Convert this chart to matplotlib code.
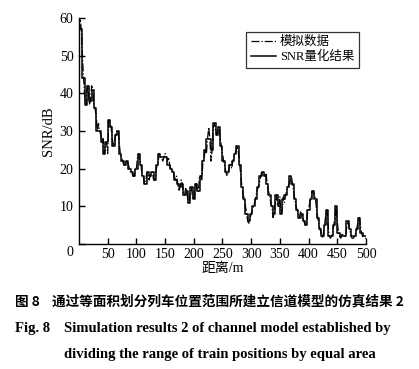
import numpy as np
import matplotlib
matplotlib.use("Agg")
import matplotlib.pyplot as plt

plt.rcParams['font.family'] = ['Liberation Serif', 'Noto Sans CJK SC']
plt.rcParams['axes.unicode_minus'] = False

# simulated SNR, sampled every 2 m
distance_sim = np.arange(0, 501, 2)
snr_sim = [
    58, 60, 57, 50, 44, 39, 37, 41, 42, 37,
    38, 42, 41, 37, 36, 34, 30, 32, 30, 29,
    27, 28, 24, 26, 27, 24, 33, 32, 31, 28,
    26, 27, 29, 30, 30, 27, 24, 23, 22, 21,
    21, 22, 22, 21, 20, 19, 19, 18, 18, 20,
    20, 23, 24, 22, 21, 18, 18, 16, 16, 19,
    19, 17, 18, 19, 19, 17, 17, 19, 21, 22,
    24, 23, 23, 22, 23, 24, 23, 22, 23, 21,
    20, 20, 19, 18, 17, 18, 16, 14, 15, 17,
    16, 13, 13, 15, 14, 11, 11, 14, 15, 12,
    12, 15, 16, 14, 14, 18, 18, 17, 22, 23,
    25, 24, 28, 31, 28, 22, 25, 31, 32, 30,
    29, 31, 31, 28, 26, 24, 22, 21, 19, 18,
    19, 21, 21, 20, 22, 23, 24, 25, 26, 24,
    21, 18, 15, 13, 12, 10, 8, 6, 5.5, 7,
    8, 9, 10, 11, 12.5, 14, 15, 16, 17.5, 19,
    19, 18.5, 18, 18.5, 16, 14, 13, 11, 10, 7,
    8, 11, 13, 10, 10, 12.5, 8, 9, 12.5, 11,
    13, 14, 15, 16, 17.5, 18, 16, 14, 12, 10,
    9, 8, 7, 8.5, 8, 7, 6, 5, 5, 8,
    9, 11, 12, 14, 14, 13, 12, 9, 7, 5,
    4, 2.5, 1.5, 3, 5, 8, 9, 5, 2, 1.5,
    2, 3, 5, 7, 10, 6, 3, 2, 1.5, 2.5,
    2.5, 2, 2, 4, 6, 5, 3.5, 2, 1.5, 1.5,
    2, 3, 4, 6, 7, 5, 3, 2, 2, 1.5,
    1.5,
]

# quantized SNR, every 4 m
distance_q = np.arange(0, 501, 4)
snr_q = [
    58, 57, 44, 37, 42, 38, 41, 36, 30, 30,
    27, 24, 27, 33, 31, 26, 29, 30, 24, 22,
    21, 22, 20, 19, 18, 20, 24, 21, 18, 16,
    19, 18, 19, 17, 21, 24, 23, 23, 23, 21,
    20, 19, 17, 16, 15, 16, 13, 14, 11, 15,
    12, 16, 14, 18, 22, 25, 28, 28, 25, 32,
    29, 31, 26, 22, 19, 19, 21, 22, 24, 26,
    21, 15, 12, 8, 6, 8, 10, 12, 15, 18,
    19, 18, 16, 13, 10, 8, 13, 10, 8, 12,
    13, 15, 18, 16, 12, 9, 7, 8, 6, 5,
    9, 12, 14, 12, 7, 4, 2, 5, 9, 2,
    2, 5, 10, 3, 2, 2, 2, 6, 4, 2,
    2, 4, 7, 3, 2, 2,
]

xticks = [50, 100, 150, 200, 250, 300, 350, 400, 450, 500]
yticks = [10, 20, 30, 40, 50, 60]

fig = plt.figure(figsize=(4.19, 3.69), dpi=100)
ax = fig.add_axes([0.1885, 0.339, 0.685, 0.612])

ax.plot(distance_sim, snr_sim, color='black', lw=0.9, ls='-.', label='模拟数据')
ax.plot(distance_q, snr_q, color='black', lw=1.1, ls='-', drawstyle='steps-mid',
        label='SNR量化结果')

ax.set_xlim(0, 500)
ax.set_ylim(0, 60)
ax.set_xticks(xticks)
ax.set_yticks([0] + yticks)
ax.set_yticklabels([''] + [str(v) for v in yticks])
ax.tick_params(direction='in', length=4, width=1, labelsize=10)
ax.tick_params(axis='x', pad=3)
ax.tick_params(axis='y', pad=4)
ax.annotate('0', xy=(0, 0), xytext=(-9, -9), textcoords='offset pixels',
            ha='center', va='center', fontsize=10)
for s in ['top', 'right']:
    ax.spines[s].set_visible(False)
for s in ['left', 'bottom']:
    ax.spines[s].set_linewidth(1)

ax.set_xlabel('距离/m', fontsize=10, labelpad=1)
ax.set_ylabel('SNR/dB', fontsize=10.5, labelpad=3)

leg = ax.legend(loc='upper right', bbox_to_anchor=(0.975, 0.94), fontsize=9,
                frameon=True, fancybox=False, edgecolor='black',
                handlelength=2.0, handletextpad=0.35, borderpad=0.35,
                labelspacing=0.25, borderaxespad=0)
leg.get_frame().set_linewidth(0.9)

fig.text(0.035, 0.182, '图 8', fontsize=9.8, fontweight='bold',
         family=['Noto Sans CJK SC'], va='center')
fig.text(0.124, 0.182, '通过等面积划分列车位置范围所建立信道模型的仿真结果 2',
         fontsize=9.8, fontweight='bold', family=['Noto Sans CJK SC'], va='center')
fig.text(0.035, 0.111, 'Fig. 8', fontsize=10.5, fontweight='bold', va='center')
fig.text(0.153, 0.111, 'Simulation results 2 of channel model established by',
         fontsize=10.5, fontweight='bold', va='center')
fig.text(0.153, 0.040, 'dividing the range of train positions by equal area',
         fontsize=10.5, fontweight='bold', va='center')

fig.savefig('out.png', dpi=100)
